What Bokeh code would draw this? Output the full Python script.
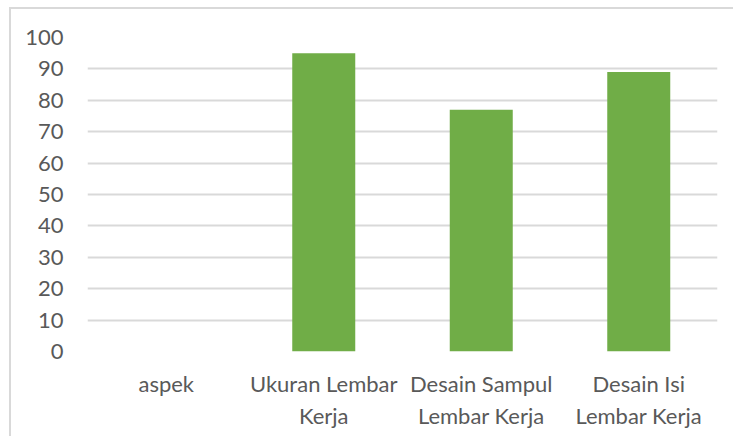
from bokeh.plotting import figure
from bokeh.embed import file_html
from bokeh.resources import INLINE
from bokeh.models import FixedTicker, Range1d

categories = ["aspek", "Ukuran Lembar\nKerja", "Desain Sampul\nLembar Kerja", "Desain Isi\nLembar Kerja"]
values = [0, 95, 77, 89]
y_ticks = [0, 10, 20, 30, 40, 50, 60, 70, 80, 90, 100]

FONT = "Lato"
TEXT = "#595959"
GRID = "#d9d9d9"

p = figure(x_range=categories, y_range=Range1d(0, 100), width=724, height=429,
           output_backend="svg", toolbar_location=None,
           min_border_left=76, min_border_right=18, min_border_top=28, min_border_bottom=87)
p.styles = {"border-left": "2px solid #d9d9d9", "border-top": "2px solid #d9d9d9",
            "margin-left": "9px", "margin-top": "7px"}

p.vbar(x=categories, top=values, width=0.4, fill_color="#70AD47", line_color=None)

p.outline_line_color = None
p.xgrid.grid_line_color = None
p.ygrid.grid_line_color = GRID
p.ygrid.grid_line_width = 2
p.yaxis.ticker = FixedTicker(ticks=y_ticks)

for ax in (p.xaxis, p.yaxis):
    ax.axis_line_color = None
    ax.major_tick_line_color = None
    ax.minor_tick_line_color = None
    ax.major_tick_out = 0
    ax.major_tick_in = 0
    ax.major_label_text_font = FONT
    ax.major_label_text_font_size = "22px"
    ax.major_label_text_color = TEXT

p.yaxis.major_label_standoff = 24
p.xaxis.major_label_standoff = 18
p.x_range.range_padding = 0

open("out.html", "w").write(file_html(p, INLINE))
